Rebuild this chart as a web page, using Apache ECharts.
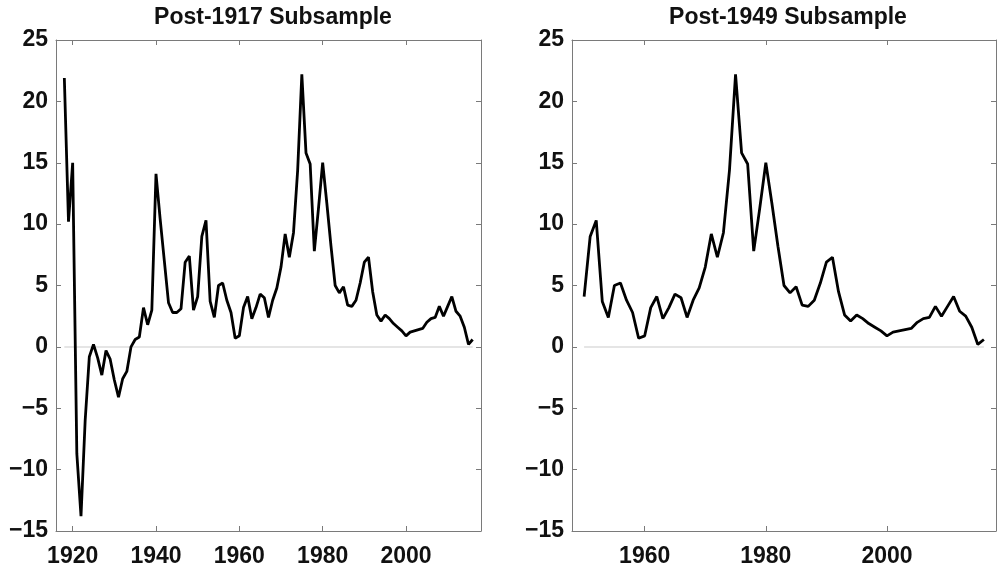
<!DOCTYPE html>
<html>
<head>
<meta charset="utf-8">
<title>Subsamples</title>
<script src="https://cdn.jsdelivr.net/npm/echarts@6/dist/echarts.min.js"></script>
<style>
  html, body { margin: 0; padding: 0; background: #fff; }
  #chart { width: 999px; height: 568px; }
</style>
</head>
<body>
<div id="chart"></div>
<script>
// annual values 1918-2016
var years = [];
for (var y = 1918; y <= 2016; y++) years.push(y);

var values = [
  21.9, 10.2, 15.0, -8.7, -13.8, -6.0, -0.8, 0.2, -0.9, -2.3,
  -0.3, -1.0, -2.7, -4.1, -2.6, -2.0, 0.0, 0.6, 0.8, 3.2,
  1.8, 3.0, 14.1, 10.4, 7.0, 3.6, 2.8, 2.8, 3.1, 6.9,
  7.4, 3.0, 4.1, 9.0, 10.3, 3.7, 2.4, 5.0, 5.2, 3.8,
  2.8, 0.7, 0.9, 3.2, 4.1, 2.3, 3.2, 4.3, 4.0, 2.4,
  3.8, 4.8, 6.5, 9.2, 7.3, 9.3, 14.4, 22.2, 15.8, 14.9,
  7.8, 11.3, 15.0, 11.7, 8.2, 5.0, 4.4, 4.9, 3.4, 3.3,
  3.8, 5.2, 6.9, 7.3, 4.5, 2.6, 2.1, 2.6, 2.3, 1.9,
  1.6, 1.3, 0.9, 1.2, 1.3, 1.4, 1.5, 2.0, 2.3, 2.4,
  3.3, 2.5, 3.3, 4.1, 2.9, 2.5, 1.6, 0.2, 0.6
];

var titles = ['Post-1917 Subsample', 'Post-1949 Subsample'];
var startYears = [1918, 1950];
var xRanges = [[1916, 2018], [1948, 2018]];
var xTicks = [[1920, 1940, 1960, 1980, 2000], [1960, 1980, 2000]];

var font = 'Liberation Sans, Arial, Helvetica, sans-serif';
var txt = '#111111';
var boxColor = '#7a7a7a';

function fmt(v) {
  return v < 0 ? '\u2212' + Math.abs(v) : String(v);
}

var grids = [
  { left: 56, top: 40, width: 425, height: 491 },
  { left: 572, top: 40, width: 424, height: 491 }
];

var option = {
  animation: false,
  backgroundColor: '#ffffff',
  title: [],
  grid: grids,
  xAxis: [],
  yAxis: [],
  series: []
};

var centers = [268, 783];

for (var g = 0; g < 2; g++) {
  option.title.push({
    text: titles[g],
    left: centers[g],
    top: 1,
    textAlign: 'center',
    textStyle: { fontFamily: font, fontWeight: 'bold', fontSize: 23, color: txt }
  });

  var lineStyle = { color: boxColor, width: 1 };
  // bottom and top x axes
  option.xAxis.push({
    type: 'value', gridIndex: g, position: 'bottom',
    min: xRanges[g][0], max: xRanges[g][1],
    axisLine: { show: true, onZero: false, lineStyle: lineStyle },
    axisTick: { show: true, inside: true, length: 5, customValues: xTicks[g], lineStyle: lineStyle },
    axisLabel: {
      customValues: xTicks[g], margin: 14,
      formatter: function (v) { return String(v); },
      fontFamily: font, fontWeight: 'bold', fontSize: 23, color: txt
    },
    splitLine: { show: false }
  });
  option.xAxis.push({
    type: 'value', gridIndex: g, position: 'top',
    min: xRanges[g][0], max: xRanges[g][1],
    axisLine: { show: true, onZero: false, lineStyle: lineStyle },
    axisTick: { show: true, inside: true, length: 5, customValues: xTicks[g], lineStyle: lineStyle },
    axisLabel: { show: false },
    splitLine: { show: false }
  });
  // left and right y axes
  option.yAxis.push({
    type: 'value', gridIndex: g, position: 'left',
    min: -15, max: 25, interval: 5,
    axisLine: { show: true, onZero: false, lineStyle: lineStyle },
    axisTick: { show: true, inside: true, length: 5, lineStyle: lineStyle },
    axisLabel: {
      margin: 8, formatter: fmt,
      fontFamily: font, fontWeight: 'bold', fontSize: 23, color: txt
    },
    splitLine: { show: false }
  });
  option.yAxis.push({
    type: 'value', gridIndex: g, position: 'right',
    min: -15, max: 25, interval: 5,
    axisLine: { show: true, onZero: false, lineStyle: lineStyle },
    axisTick: { show: true, inside: true, length: 5, lineStyle: lineStyle },
    axisLabel: { show: false },
    splitLine: { show: false }
  });

  var pts = [];
  for (var i = 0; i < years.length; i++) {
    if (years[i] >= startYears[g]) pts.push([years[i], values[i]]);
  }
  var zero = [[pts[0][0], 0], [pts[pts.length - 1][0], 0]];

  option.series.push({
    type: 'line', xAxisIndex: g * 2, yAxisIndex: g * 2,
    data: zero, showSymbol: false, silent: true,
    lineStyle: { color: '#dcdcdc', width: 1.5 }
  });
  option.series.push({
    type: 'line', xAxisIndex: g * 2, yAxisIndex: g * 2,
    data: pts, showSymbol: false,
    lineStyle: { color: '#000000', width: 2.8 }
  });
}

var myChart = echarts.init(document.getElementById('chart'));
myChart.setOption(option, true);
</script>
</body>
</html>
